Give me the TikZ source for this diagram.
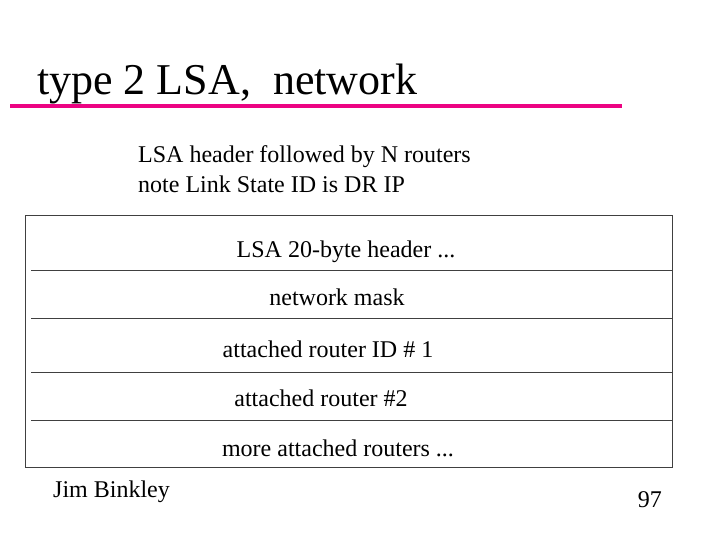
\documentclass[tikz,border=0pt]{standalone}
\usepackage{fontspec}
\setmainfont{Liberation Serif}
\begin{document}
\begin{tikzpicture}[x=1pt,y=-1pt,
  rowtxt/.style={font=\fontsize{24}{28}\selectfont, anchor=base},
  rule/.style={draw=black!75, line width=0.9pt}]
\useasboundingbox (0,0) rectangle (720,540);
\node[anchor=base west, font=\fontsize{44}{48}\selectfont, inner sep=0] (title) at (37,95) {type 2 LSA,\ \ network};
\draw[magenta!90!red, line width=4pt] (10,106) -- (622,106);
\node[anchor=base west, font=\fontsize{24}{28}\selectfont, inner sep=0] (n1) at (138,163) {LSA header followed by N routers};
\node[anchor=base west, font=\fontsize{24}{28}\selectfont, inner sep=0] (n2) at (138,193) {note Link State ID is DR IP};
\draw[rule] (25,215) rectangle (672,467);
\foreach \yy in {270,318,372,420} \draw[rule] (31,\yy) -- (672,\yy);
\node[rowtxt] (r1) at (346,258) {LSA 20-byte header ...};
\node[rowtxt] (r2) at (337,305) {network mask};
\node[rowtxt] (r3) at (328,357) {attached router ID \# 1};
\node[rowtxt] (r4) at (321,406) {attached router \#2};
\node[rowtxt] (r5) at (338,456) {more attached routers ...};
\node[anchor=base west, font=\fontsize{24}{28}\selectfont, inner sep=0] (auth) at (53,497) {Jim Binkley};
\node[anchor=base east, font=\fontsize{24}{28}\selectfont, inner sep=0] (pg) at (662,507) {97};
\end{tikzpicture}
\end{document}
